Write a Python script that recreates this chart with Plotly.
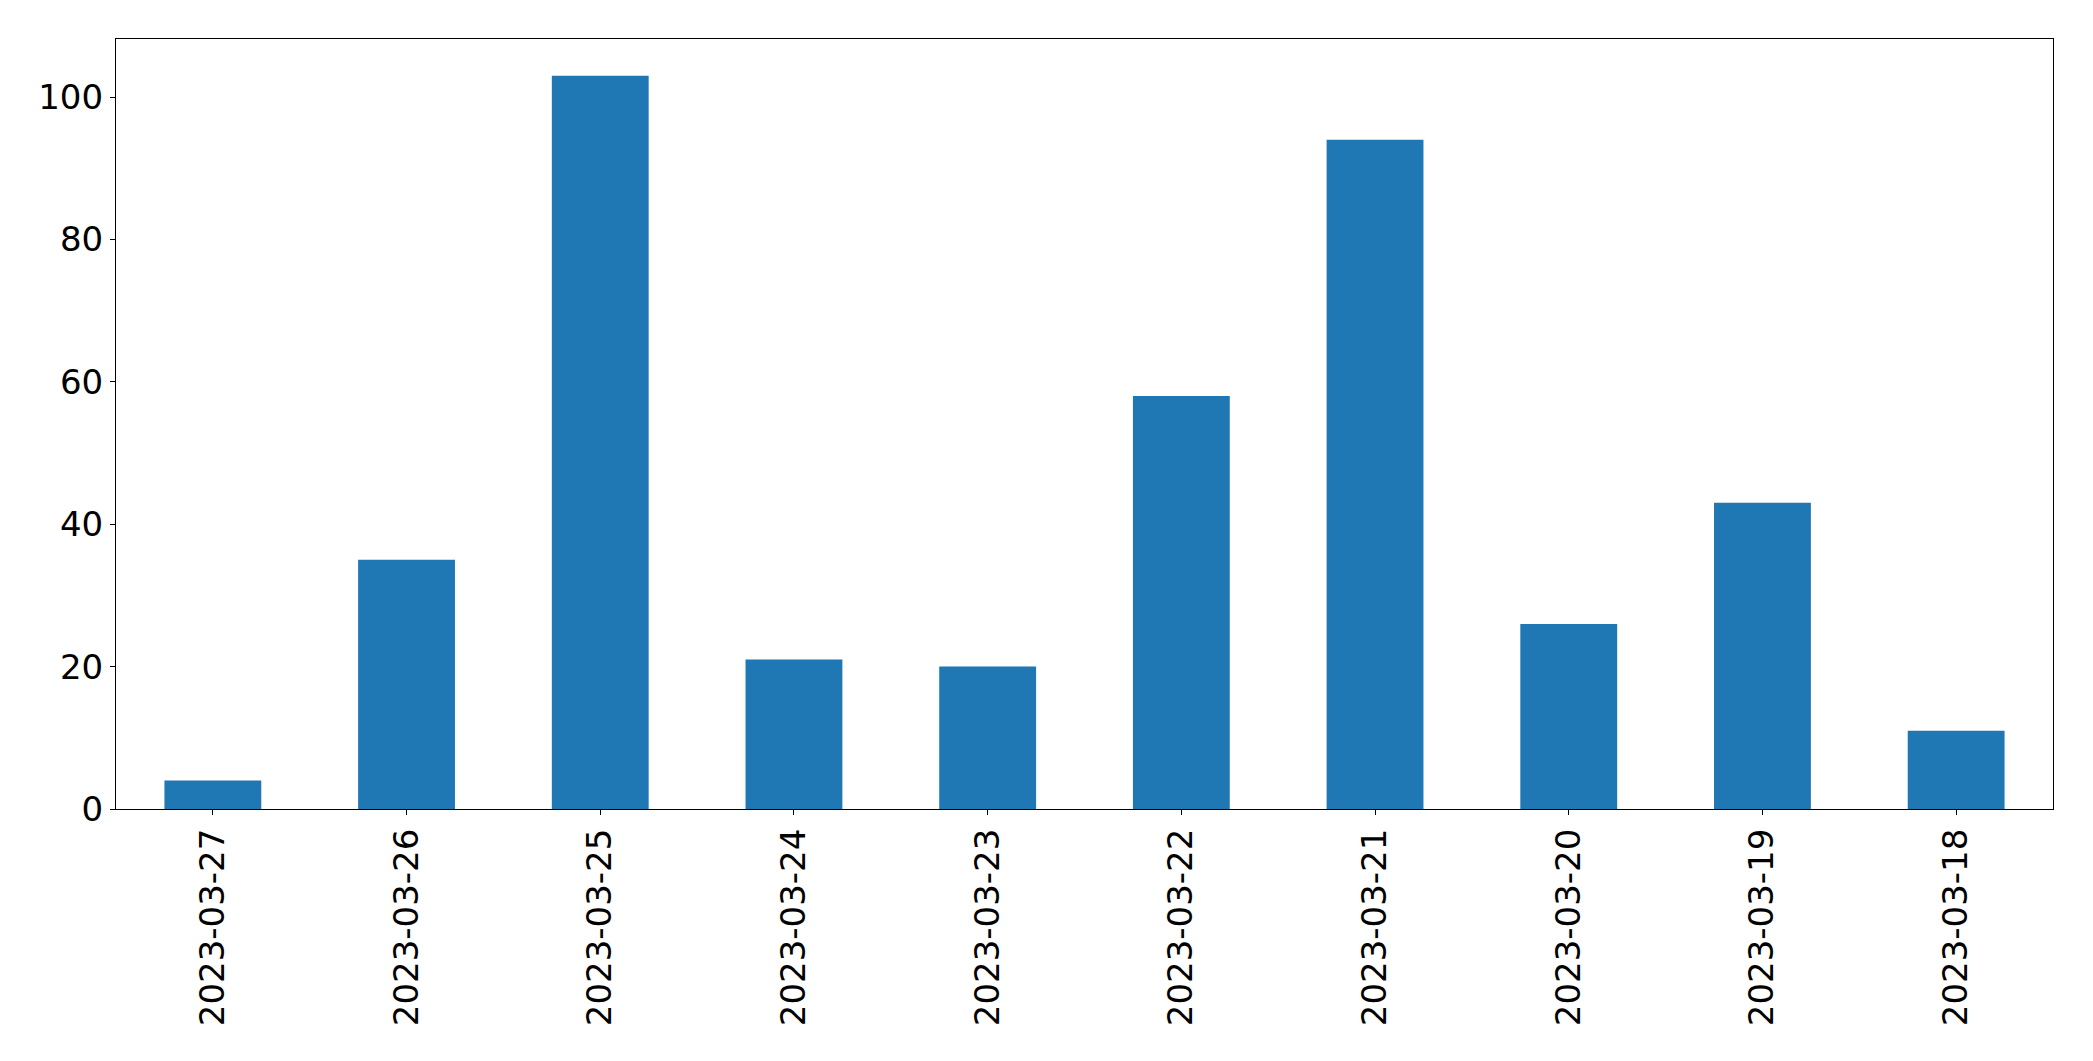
import plotly.graph_objects as go

dates = ["2023-03-27", "2023-03-26", "2023-03-25", "2023-03-24", "2023-03-23",
         "2023-03-22", "2023-03-21", "2023-03-20", "2023-03-19", "2023-03-18"]
counts = [4, 35, 103, 21, 20, 58, 94, 26, 43, 11]
y_ticks = [0, 20, 40, 60, 80, 100]

fig = go.Figure(go.Bar(x=dates, y=counts, width=0.5, marker=dict(color="#1f77b4", line=dict(width=0))))

fig.update_layout(
    width=2077, height=1045,
    margin=dict(l=108, r=32, t=31, b=244, pad=0),
    plot_bgcolor="white", paper_bgcolor="white",
    font=dict(family="DejaVu Sans", size=34, color="black"),
    showlegend=False,
)
fig.update_xaxes(
    type="category", range=[-0.5, len(dates) - 0.5],
    tickangle=-90, ticks="outside", ticklen=5, tickwidth=1.1, tickcolor="black",
    showline=True, linecolor="black", linewidth=1.1, mirror=True,
    showgrid=False, zeroline=False,
)
fig.update_yaxes(
    range=[0, max(counts) * 1.05], tickvals=y_ticks,
    ticks="outside", ticklen=5, tickwidth=1.1, tickcolor="black",
    showline=True, linecolor="black", linewidth=1.1, mirror=True,
    showgrid=False, zeroline=False,
)
fig.write_html("out.html")
